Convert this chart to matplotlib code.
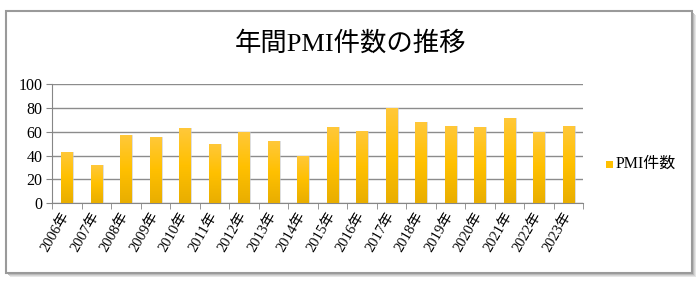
import matplotlib
matplotlib.use('Agg')
import matplotlib.pyplot as plt
import numpy as np
from matplotlib.patches import Rectangle
from matplotlib.colors import LinearSegmentedColormap

plt.rcParams['font.family'] = ['Liberation Serif', 'Noto Sans CJK JP']

# data
years = [f'{y}年' for y in range(2006, 2024)]
counts = [43, 32, 57, 56, 63, 50, 60, 52, 40, 64, 61, 80, 68, 65, 64, 72, 60, 65]
yticks = [0, 20, 40, 60, 80, 100]
title = '年間PMI件数の推移'
series_name = 'PMI件数'

W, H = 700, 286
fig = plt.figure(figsize=(W / 100, H / 100), dpi=100)
fig.patch.set_facecolor('white')


def px(x0, y0, x1, y1):
    # pixel box (top-left origin) -> figure fraction rect
    return (x0 / W, 1 - y1 / H, (x1 - x0) / W, (y1 - y0) / H)


# outer frame with soft shadow
for off, col in [(4, '#e6e6e6'), (3, '#d4d4d4'), (2, '#bdbdbd'), (1, '#a8a8a8')]:
    x, y, w, h = px(6 + off, 11 + off, 692 + off, 273 + off)
    fig.add_artist(Rectangle((x, y), w, h, transform=fig.transFigure,
                             facecolor=col, edgecolor='none', zorder=0))
x, y, w, h = px(6, 11, 692, 273)
fig.add_artist(Rectangle((x, y), w, h, transform=fig.transFigure,
                         facecolor='white', edgecolor='#9a9a9a', lw=1.5, zorder=0.5))

ax = fig.add_axes(px(52, 84.3, 583, 203))
ax.set_facecolor('none')
ax.set_zorder(2)

xs = np.arange(len(years))
bars = ax.bar(xs, counts, width=0.38, color='#FFC000', zorder=3)

# vertical gradient inside each bar
grad = LinearSegmentedColormap.from_list('g', ['#E9AE00', '#FFC000', '#FFC83A'])
gimg = np.linspace(0, 1, 100).reshape(-1, 1)
for b in bars:
    bx, bw, bh = b.get_x(), b.get_width(), b.get_height()
    # small shadow on the right
    ax.add_patch(Rectangle((bx + bw, 0), 0.06, bh, facecolor='#c9c9c9',
                           edgecolor='none', alpha=0.6, zorder=2.5))
    im = ax.imshow(gimg, cmap=grad, origin='lower', aspect='auto',
                   extent=(bx, bx + bw, 0, bh), zorder=3.5)
    im.set_clip_path(b)

ax.set_xlim(-0.5, len(years) - 0.5)
ax.set_ylim(0, 100)
ax.set_yticks(yticks)
ax.tick_params(axis='y', labelsize=11.5, length=4, color='#868686', pad=3)
ax.yaxis.grid(True, color='#8c8c8c', lw=1)
ax.set_axisbelow(True)

ax.set_xticks(xs)
ax.set_xticklabels(years, rotation=60, ha='right', va='center',
                   rotation_mode='anchor', fontsize=10.5)
ax.tick_params(axis='x', length=0, pad=7)
ax.set_xticks(np.arange(-0.5, len(years)), minor=True)
ax.tick_params(axis='x', which='minor', length=4, color='#868686')

for s in ['top', 'right']:
    ax.spines[s].set_visible(False)
ax.spines['left'].set_color('#868686')
ax.spines['bottom'].set_color('#868686')

fig.text(351 / W, 1 - 43 / H, title, ha='center', va='center', fontsize=19)

# legend
fig.add_artist(Rectangle((606 / W, 1 - 168 / H), 7 / W, 7 / H,
                         transform=fig.transFigure, facecolor='#FFC000',
                         edgecolor='none', zorder=3))
fig.text(616 / W, 1 - 164 / H, series_name, ha='left', va='center', fontsize=11.5)

fig.savefig('out.png', dpi=100)
